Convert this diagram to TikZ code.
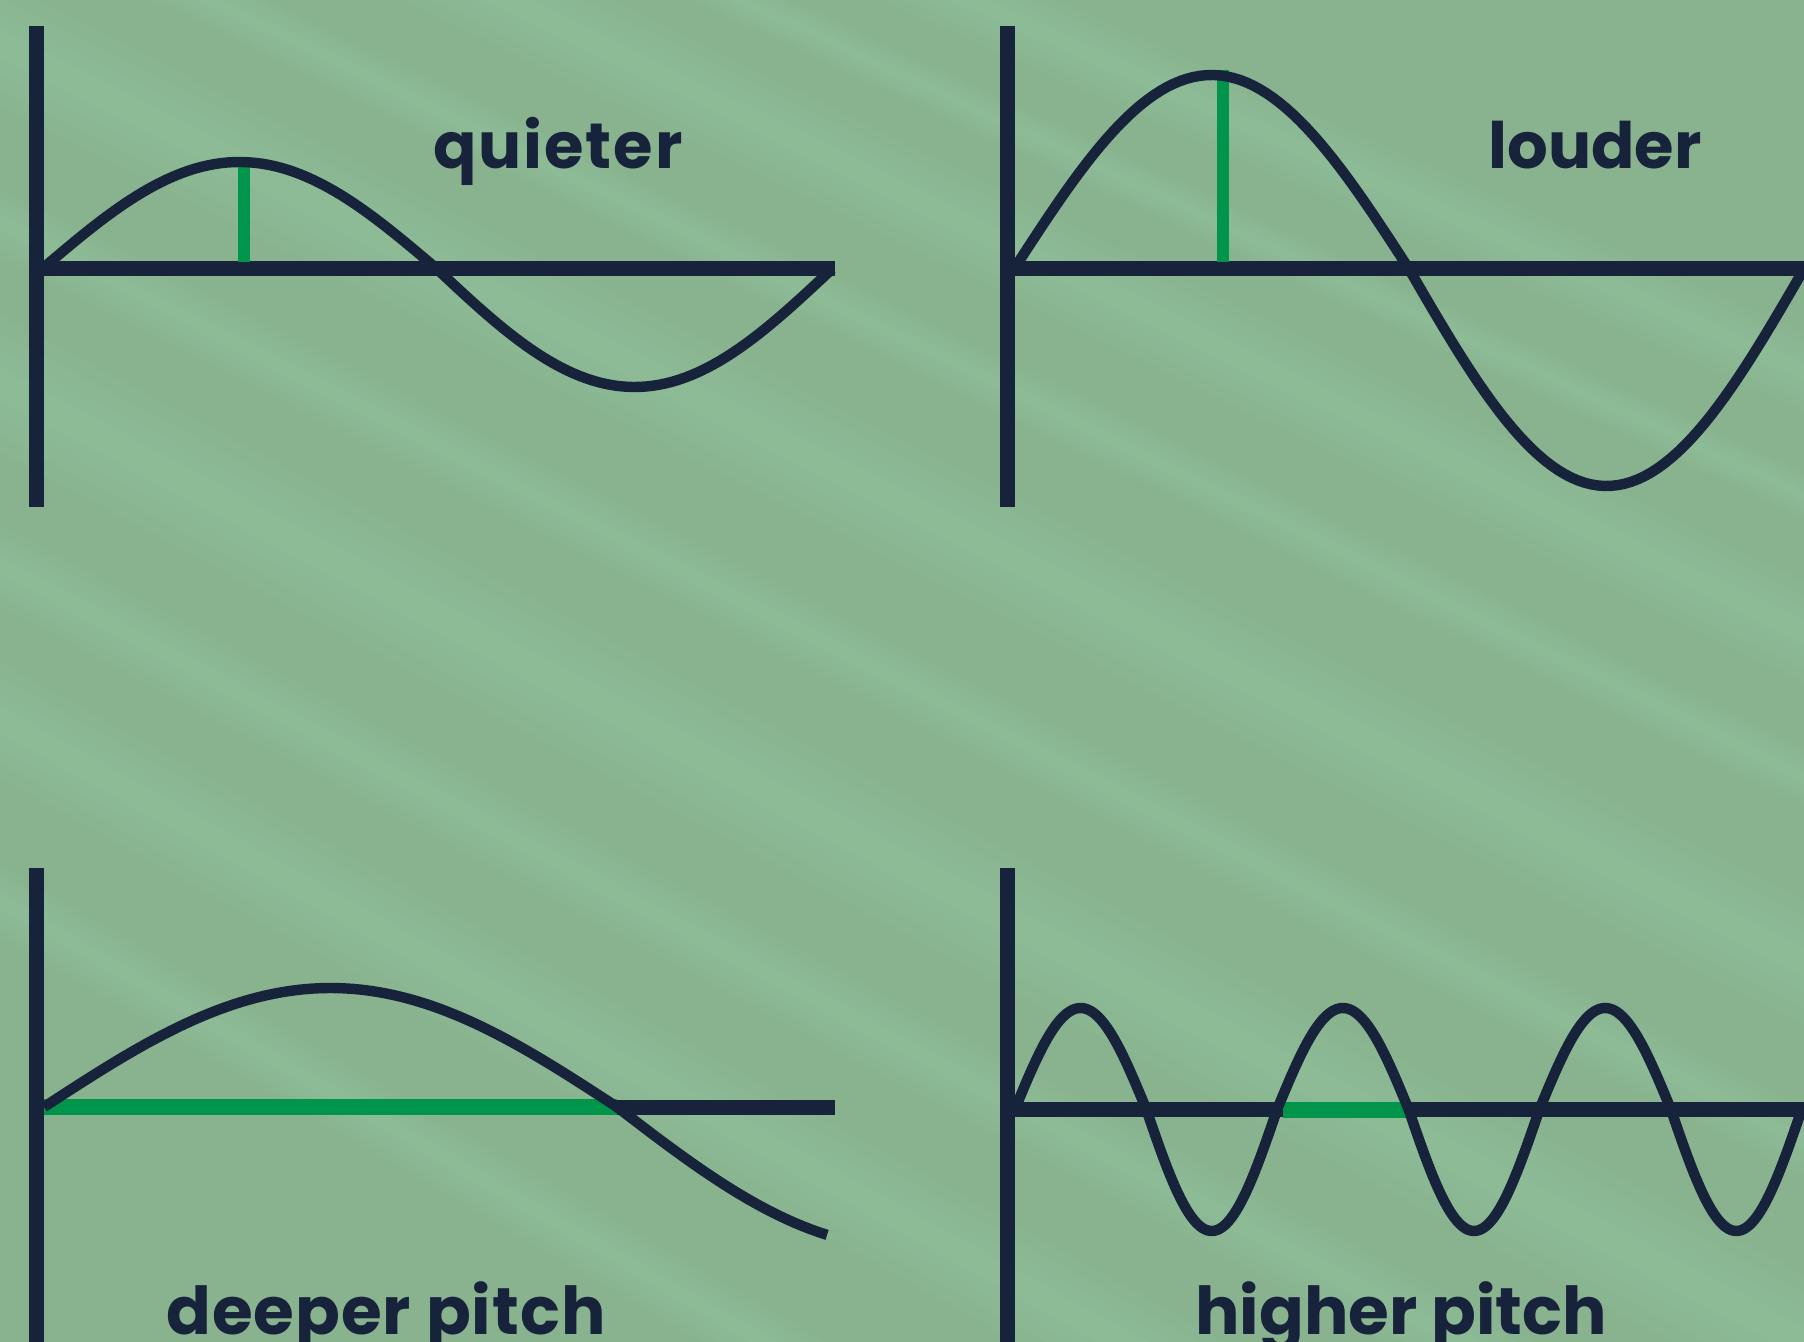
\documentclass[tikz,border=0pt]{standalone}
\usepackage{fontspec}
\setmainfont{Poppins}
\usepackage{tikz}
\usetikzlibrary{positioning}
\definecolor{wInk}{HTML}{17223B}
\definecolor{wGreen}{HTML}{00954A}
\definecolor{wBack}{HTML}{89B38F}
\definecolor{wStreak}{HTML}{98CCA6}

\begin{document}
\begin{tikzpicture}[x=0.5pt, y=-0.5pt, line join=round]
  \useasboundingbox (0,0) rectangle (1804,1342);
  \fill[wBack] (0,0) rectangle (1804,1342);
  % soft light streaks across the background
  \begin{scope}
    \clip (0,0) rectangle (1804,1342);
    \foreach \c/\w/\a in {-640/70/-24, -540/40/-25, -430/90/-26, -300/50/-26, -150/110/-27, 10/60/-27, 170/120/-28, 330/70/-28, 480/100/-29, 650/60/-30}{
      \foreach \k in {1,2,3,4}{
        \fill[wStreak, opacity=0.11, rotate around={\a:(902,671)}] (-900,671+\c-\w*\k/8) rectangle (2700,671+\c+\w*\k/8);
      }
    }
  \end{scope}

  % quieter
  \draw[wInk, line width=7.5pt] (36,26) -- (36,507);
  \draw[wInk, line width=7.5pt] (36,269) -- (835,269);
  \draw[wGreen, line width=6pt] (244,164) -- (244,262);
  \draw[wInk, line width=5.2pt, domain=0:360, samples=120, variable=\t]
    plot ({42+\t/360*790}, {269-112.5*sin(\t)+5.5*abs(sin(\t))});
  \node[anchor=base west, inner sep=0pt, text=wInk, font=\fontsize{32}{38}\selectfont\bfseries] (lblQuiet) at (433,169) {\addfontfeatures{LetterSpace=3}quieter};

  % louder
  \draw[wInk, line width=7.5pt] (1007,26) -- (1007,507);
  \draw[wInk, line width=7.5pt] (1007,269) -- (1804,269);
  \draw[wGreen, line width=6pt] (1223,70) -- (1223,262);
  \draw[wInk, line width=5.2pt, domain=0:360, samples=120, variable=\t]
    plot ({1014+\t/360*790}, {269-205.5*sin(\t)+11.5*abs(sin(\t))});
  \node[anchor=base west, inner sep=0pt, text=wInk, font=\fontsize{32}{38}\selectfont\bfseries] (lblLoud) at (1488,169) {louder};

  % deeper pitch
  \draw[wInk, line width=7.5pt] (36,868) -- (36,1350);
  \draw[wInk, line width=7.5pt] (36,1107) -- (835,1107);
  \draw[wGreen, line width=8pt] (44,1107) -- (617,1107);
  \draw[wInk, line width=5.2pt, domain=0:246, samples=100, variable=\t]
    plot ({44+\t/360*1146}, {1107-129.5*sin(\t)+10.5*abs(sin(\t))});
  \node[anchor=base west, inner sep=0pt, text=wInk, font=\fontsize{33}{40}\selectfont\bfseries] (lblDeep) at (166,1334) {\addfontfeatures{LetterSpace=1.5}deeper pitch};

  % higher pitch
  \draw[wInk, line width=7.5pt] (1007,868) -- (1007,1350);
  \draw[wInk, line width=7.5pt] (1007,1109) -- (1804,1109);
  \draw[wGreen, line width=8pt] (1283,1110) -- (1410,1110);
  \draw[wInk, line width=5.2pt, domain=0:1080, samples=300, variable=\t]
    plot ({1015+\t/360*262.3}, {1109-111.5*sin(\t)+10.5*abs(sin(\t))});
  \node[anchor=base west, inner sep=0pt, text=wInk, font=\fontsize{33}{40}\selectfont\bfseries] (lblHigh) at (1195,1334) {higher pitch};
\end{tikzpicture}
\end{document}
